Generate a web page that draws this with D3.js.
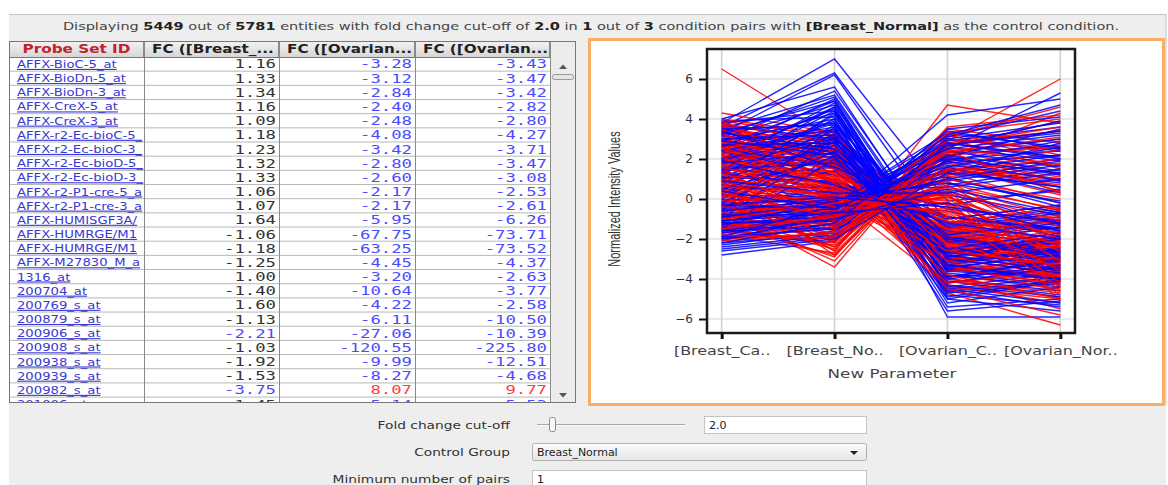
<!DOCTYPE html>
<html>
<head>
<meta charset="utf-8">
<script src="https://cdn.jsdelivr.net/npm/d3@7"></script>
<style>
  html, body { margin: 0; padding: 0; background: #fff; }
  svg { display: block; }
  text { font-family: "DejaVu Sans", sans-serif; }
</style>
</head>
<body>
<div id="chart"></div>
<script>
// ---- data ----
const categories = ["[Breast_Ca..", "[Breast_No..", "[Ovarian_C..", "[Ovarian_Nor.."];
const yTicks = [-6, -4, -2, 0, 2, 4, 6];

const tableColumns = ["Probe Set ID", "FC ([Breast_...", "FC ([Ovarian...", "FC ([Ovarian..."];
const probeIds = ["AFFX-BioC-5_at", "AFFX-BioDn-5_at", "AFFX-BioDn-3_at", "AFFX-CreX-5_at", "AFFX-CreX-3_at",
  "AFFX-r2-Ec-bioC-5_at", "AFFX-r2-Ec-bioC-3_at", "AFFX-r2-Ec-bioD-5_at", "AFFX-r2-Ec-bioD-3_at",
  "AFFX-r2-P1-cre-5_at", "AFFX-r2-P1-cre-3_at", "AFFX-HUMISGF3A/M97935_5_at", "AFFX-HUMRGE/M10098_5_at",
  "AFFX-HUMRGE/M10098_M_at", "AFFX-M27830_M_at", "1316_at", "200704_at", "200769_s_at", "200879_s_at",
  "200906_s_at", "200908_s_at", "200938_s_at", "200939_s_at", "200982_s_at", "201006_at"];
const fcBreast = [1.16, 1.33, 1.34, 1.16, 1.09, 1.18, 1.23, 1.32, 1.33, 1.06, 1.07, 1.64, -1.06, -1.18, -1.25,
  1.00, -1.40, 1.60, -1.13, -2.21, -1.03, -1.92, -1.53, -3.75, -1.45];
const fcOvarianCa = [-3.28, -3.12, -2.84, -2.40, -2.48, -4.08, -3.42, -2.80, -2.60, -2.17, -2.17, -5.95, -67.75,
  -63.25, -4.45, -3.20, -10.64, -4.22, -6.11, -27.06, -120.55, -9.99, -8.27, 8.07, -5.14];
const fcOvarianNo = [-3.43, -3.47, -3.42, -2.82, -2.80, -4.27, -3.71, -3.47, -3.08, -2.53, -2.61, -6.26, -73.71,
  -73.52, -4.37, -2.63, -3.77, -2.58, -10.50, -10.39, -225.80, -12.51, -4.68, 9.77, -5.53];

// normalized intensity profiles, one per entity: [Breast_Ca, Breast_No, Ovarian_C, Ovarian_Nor]
const profilesBlue = [
  [3.8, 7.0, -0.1, 0.4], [3.6, 6.3, -1.2, -0.5], [3.3, 6.2, -1.8, -1.0], [2.9, 5.4, -2.6, -2.2],
  [3.5, 5.2, -3.1, -2.7], [2.4, 5.0, -3.9, -3.5], [1.8, 4.8, -4.6, -4.1], [3.1, 4.7, -3.4, -3.9],
  [2.2, 4.5, -5.9, -5.9], [1.5, 4.4, -4.1, -4.8], [2.7, 4.3, -3.0, -2.1], [0.9, 4.2, -4.4, -3.7],
  [3.9, 4.1, -2.5, -3.1], [1.2, 4.0, -5.2, -4.4], [2.0, 3.9, -4.8, -5.3], [3.4, 3.8, -2.2, -1.4],
  [0.4, 3.7, -3.6, -2.9], [2.6, 3.6, -4.0, -4.6], [1.7, 3.5, -5.4, -5.0], [3.0, 3.4, -1.9, -2.6],
  [-0.3, 3.3, -3.3, -3.8], [1.1, 3.2, -4.7, -4.2], [2.3, 3.1, -2.8, -1.8], [3.7, 3.0, -1.5, -0.9],
  [0.6, 2.9, -3.8, -4.4], [1.9, 2.8, -2.4, -3.2], [-0.8, 2.7, -4.2, -3.4], [2.8, 2.6, -3.2, -2.4],
  [1.4, 2.5, -5.0, -5.6], [0.1, 2.4, -2.9, -2.2], [3.2, 2.3, -1.7, -1.1], [-1.2, 2.2, -3.5, -4.0],
  [2.1, 2.1, -2.6, -3.3], [0.8, 2.0, -4.5, -3.9], [1.6, 1.9, -2.0, -1.3], [-0.5, 1.8, -3.1, -2.5],
  [2.5, 1.7, -1.6, -2.3], [1.0, 1.6, -2.7, -2.0], [3.6, 1.5, -1.3, -0.6], [0.3, 1.4, -2.2, -2.9],
  [-2.8, -2.1, 2.6, 1.9], [-2.3, -1.6, 2.2, 2.7], [-1.9, -1.2, 3.0, 2.4], [-1.6, -0.9, 2.4, 1.6],
  [-2.1, -0.7, 1.9, 2.9], [-1.4, -0.6, 2.7, 3.3], [-0.9, -0.5, 1.5, 0.8], [-1.7, -0.4, 2.1, 1.2],
  [-1.1, -0.3, 1.2, 2.0], [-0.6, -0.2, 3.3, 2.6], [-1.3, -0.8, 1.7, 1.0], [-0.2, -0.1, 0.9, 1.7],
  [-1.8, -1.0, 2.9, 3.6], [-0.4, 0.2, 1.4, 0.6], [-1.0, 0.3, 2.0, 2.4], [-2.0, -1.4, 3.5, 4.1],
  [-0.7, -0.6, 4.2, 5.0], [0.2, 0.1, 2.5, 5.3], [-1.5, -1.1, 1.0, -0.2], [-0.1, 0.4, 0.6, 1.3],
  [1.3, 0.5, 1.1, -0.4], [0.7, 0.0, 0.2, -0.8], [-1.2, -0.9, 0.4, -1.3], [-0.8, -0.3, -0.6, -1.9],
  [0.5, 0.6, -0.3, 0.5], [-2.5, -1.9, 1.6, 0.3], [-1.6, -1.3, 2.3, 3.0], [-0.3, -0.4, 1.8, 2.2],
  [1.6, 0.8, -0.9, -1.6], [-0.9, -0.7, 2.6, 3.9], [0.0, -0.2, 3.1, 4.4], [-1.4, -1.5, 0.7, 1.5],
  [2.4, 1.2, -0.5, -1.1], [-2.2, -1.7, 2.8, 2.1], [-0.5, -0.1, 1.3, 2.8], [1.1, 0.9, -1.0, -0.3],
  [4.0, 5.6, -2.9, -2.0], [3.3, 4.9, -3.7, -4.3], [2.0, 4.6, -4.9, -4.0], [0.0, 3.0, -5.6, -5.1],
  [3.2, 5.1, -3.3, -2.5], [2.6, 4.9, -4.2, -3.4], [1.4, 4.6, -4.5, -5.2], [3.8, 4.4, -2.7, -1.9],
  [0.7, 4.3, -5.0, -4.1], [2.9, 4.0, -3.6, -4.0], [1.9, 3.8, -3.9, -3.0], [3.5, 3.7, -2.0, -2.8],
  [-0.6, 3.6, -4.3, -4.9], [2.4, 3.5, -3.5, -2.6], [1.3, 3.4, -2.6, -3.5], [3.0, 3.2, -2.9, -2.0],
  [0.2, 3.1, -3.9, -3.1], [2.0, 3.0, -4.6, -5.4], [-1.0, 2.9, -3.0, -3.7], [2.7, 2.8, -1.8, -1.2],
  [1.0, 2.7, -3.4, -2.8], [3.3, 2.5, -2.1, -2.9], [-0.2, 2.4, -4.0, -3.3], [1.8, 2.3, -3.3, -4.0],
  [2.9, 2.2, -1.4, -0.7], [0.5, 2.1, -2.5, -1.7], [-1.5, 2.0, -2.8, -3.6], [1.5, 1.8, -1.9, -2.7],
  [3.4, 1.6, -0.9, -1.5],
  [-2.4, -1.8, 2.0, 1.3], [-1.9, -1.5, 2.7, 3.4], [-1.2, -1.1, 3.4, 2.5], [-2.0, -0.9, 1.4, 2.2],
  [-0.8, -0.8, 2.2, 1.4], [-1.6, -0.6, 3.0, 3.8], [-1.1, -0.5, 1.9, 0.9], [-0.4, -0.4, 2.5, 3.2],
  [-1.9, -0.3, 1.0, 1.9], [-0.9, -0.2, 2.8, 2.0], [-1.3, -0.1, 1.6, 2.6], [-0.6, 0.0, 0.8, -0.1],
  [-2.2, -1.2, 3.2, 4.7], [0.4, -0.5, 2.1, 3.5], [-1.7, -1.0, 0.5, -0.7], [-0.3, 0.1, -0.4, -1.2],
  [1.9, 0.7, -1.2, -2.0], [0.9, 0.3, 0.3, 1.0], [-1.1, -0.7, -0.2, -1.6], [-2.6, -2.0, 1.3, 0.6]
];
const profilesRed = [
  [6.5, 3.0, -1.8, -2.6], [4.3, 3.3, -2.4, -3.0], [3.9, 3.1, -2.9, -3.5], [3.7, 2.9, -3.3, -4.1],
  [3.5, 2.8, -1.5, -0.7], [3.3, 2.7, -2.2, -2.9], [3.1, 2.5, -3.8, -4.5], [2.9, 2.4, -2.6, -1.9],
  [3.6, 2.3, -1.9, -2.7], [2.7, 2.2, -3.0, -3.7], [2.5, 2.1, -4.4, -5.0], [3.4, 2.0, -1.4, -2.2],
  [2.3, 1.9, -2.1, -1.4], [2.1, 1.8, -3.5, -4.2], [3.0, 1.7, -2.7, -3.3], [1.9, 1.6, -1.7, -2.5],
  [2.8, 1.5, -4.7, -6.3], [1.7, 1.4, -2.3, -3.1], [3.2, 1.3, -1.2, -0.4], [1.5, 1.2, -3.2, -2.6],
  [2.6, 1.1, -2.0, -2.8], [1.3, 1.0, -1.6, -1.0], [2.4, 0.9, -4.1, -4.9], [1.1, 0.8, -2.5, -3.4],
  [3.8, 0.7, -1.1, -1.7], [2.0, 0.6, -3.6, -3.0], [0.9, 0.5, -1.3, -2.0], [2.2, 0.4, -2.8, -3.6],
  [1.6, 0.3, -0.9, -1.5], [0.7, 0.2, -2.0, -2.7], [2.9, 0.1, -4.3, -5.2], [1.4, 0.0, -1.0, -0.3],
  [0.5, -0.1, -3.1, -3.9], [3.5, 0.9, -2.4, -4.0], [2.7, 1.6, -3.9, -5.5],
  [-0.4, -3.4, 3.2, 2.0], [-1.0, -2.9, 3.5, 2.8], [-1.8, -2.7, 2.8, 3.4], [0.6, -2.6, 4.7, 3.8],
  [-0.2, -2.4, 3.0, 1.5], [-1.5, -2.3, 2.5, 1.2], [0.3, -2.2, 2.9, 6.0], [-0.7, -2.1, 2.2, 0.9],
  [1.2, -2.0, 1.9, 0.4], [-1.2, -1.9, 2.6, 3.9], [0.0, -1.8, 1.6, 0.2], [-2.0, -1.7, 2.0, 1.1],
  [0.8, -1.6, 2.4, 3.0], [-0.9, -1.5, 1.3, -0.2], [1.5, -1.4, 1.8, 0.6], [-0.5, -1.3, 1.1, 1.8],
  [2.2, -1.2, 2.1, 4.3], [-1.3, -1.1, 0.8, -0.6], [0.4, -1.0, 1.5, 0.9], [1.0, -0.9, 0.6, -0.9],
  [-1.7, -0.8, 1.2, 2.5], [-0.1, -0.7, 0.3, -1.4], [1.8, -0.5, 0.9, -2.1], [-0.6, -0.4, 0.1, -1.8],
  [0.2, -0.3, 0.5, -3.0], [-1.1, -2.5, 3.1, 4.6], [0.9, -2.8, 2.7, 3.6], [-0.3, -1.6, 3.3, 4.0],
  [1.1, -0.6, -0.2, -2.4], [-1.4, -1.2, 0.2, -3.5], [2.5, -0.2, -0.6, -3.2], [0.1, 0.0, -0.4, -4.4],
  [-0.8, -0.1, 0.0, -2.9], [1.7, 0.4, -0.8, -3.8], [3.0, 0.3, -0.1, -4.6], [-1.9, -1.4, 0.4, -3.8],
  [0.6, 0.2, -1.1, -4.8], [2.3, 1.0, -0.3, -4.1], [-0.2, -0.8, 0.7, -2.3], [1.4, -0.1, 0.3, -5.1],
  [4.0, 3.2, -2.0, -2.4], [3.8, 2.8, -3.6, -3.2], [3.6, 2.6, -2.5, -3.4], [3.4, 2.4, -1.7, -1.1],
  [3.2, 2.2, -3.2, -4.0], [3.0, 2.0, -2.3, -1.6], [2.8, 1.9, -4.0, -4.7], [2.6, 1.7, -1.8, -2.4],
  [3.7, 1.6, -2.9, -3.8], [2.4, 1.5, -3.1, -2.3], [2.2, 1.3, -2.2, -3.0], [3.9, 1.2, -1.5, -2.1],
  [2.0, 1.1, -3.4, -4.3], [1.8, 0.9, -1.9, -1.2], [3.3, 0.8, -2.6, -3.3], [1.6, 0.7, -4.2, -3.6],
  [1.2, 0.6, -1.4, -2.2], [2.5, 0.5, -2.1, -3.9], [1.0, 0.4, -3.3, -4.6], [0.8, 0.2, -1.5, -0.8],
  [2.1, 0.1, -2.4, -1.7], [0.4, -0.2, -2.6, -3.3], [2.9, 1.8, -4.5, -5.8], [1.9, 1.0, -3.8, -5.0],
  [-0.6, -3.1, 3.0, 2.5], [-1.3, -2.8, 2.6, 1.7], [0.2, -2.6, 3.6, 4.2], [-0.9, -2.4, 2.3, 3.1],
  [-1.6, -2.2, 3.3, 2.2], [0.5, -2.0, 2.0, 1.3], [-0.3, -1.9, 2.7, 3.4], [-2.1, -1.7, 1.5, 0.7],
  [1.0, -1.5, 2.2, 2.6], [-0.8, -1.3, 1.6, 1.0], [0.3, -1.1, 1.0, 0.0], [-1.5, -0.9, 1.4, 2.0],
  [1.3, -0.8, 0.4, -1.1], [-0.4, -0.6, 0.6, -0.5], [0.7, -0.4, -0.5, -2.6], [-1.0, -0.2, 0.2, -3.1],
  [1.6, 0.0, -0.7, -3.6], [-0.1, 0.1, -0.2, -4.2], [2.6, 0.6, -0.9, -4.4], [0.3, -0.9, 0.1, -2.0],
  [-1.8, -2.0, 2.4, 0.3]
];

const headerParts = [["Displaying ", false], ["5449", true], [" out of ", false], ["5781", true],
  [" entities with fold change cut-off of ", false], ["2.0", true], [" in ", false], ["1", true],
  [" out of ", false], ["3", true], [" condition pairs with ", false], ["[Breast_Normal]", true],
  [" as the control condition.", false]];

// ---- layout ----
const W = 1168, H = 485;
const svg = d3.select("#chart").append("svg").attr("width", W).attr("height", H);

// squeeze/stretch a text horizontally around its x anchor
function stretch(t, k) {
  const x = +t.attr("x") || 0;
  t.attr("transform", "translate(" + x + ",0) scale(" + k + ",1) translate(" + (-x) + ",0)");
  return t;
}
function fitWidth(t, w) {
  return stretch(t, w / t.node().getComputedTextLength());
}

// panel background
svg.append("rect").attr("x", 9).attr("y", 14).attr("width", 1157).attr("height", H - 14).attr("fill", "#eeeeee");
svg.append("line").attr("x1", 9).attr("x2", 1166).attr("y1", 14.5).attr("y2", 14.5).attr("stroke", "#c6c6c6");
svg.append("line").attr("x1", 1166).attr("x2", 1166).attr("y1", 14).attr("y2", 405).attr("stroke", "#c6c6c6");

// header sentence
let head = svg.append("text").attr("x", 591).attr("y", 30).attr("text-anchor", "middle")
  .style("font-size", "11px").attr("fill", "#333");
headerParts.forEach(function(p){
  head.append("tspan").text(p[0]).style("font-weight", p[1] ? "bold" : "normal").attr("fill", p[1] ? "#222" : "#444");
});
fitWidth(head, 1057);

// ---- table ----
const colX = [9, 144, 279, 415, 550];
const scrollRight = 576;
const tTop = 41, headH = 16, rowH = 14.17, tBottom = 403;
const table = svg.append("g");
const defs = svg.append("defs");

table.append("rect").attr("x", colX[0]).attr("y", tTop).attr("width", scrollRight - colX[0]).attr("height", tBottom - tTop)
  .attr("fill", "#fff");

const grad = defs.append("linearGradient").attr("id", "hdr").attr("x1", 0).attr("x2", 0).attr("y1", 0).attr("y2", 1);
grad.append("stop").attr("offset", "0%").attr("stop-color", "#f2f2f2");
grad.append("stop").attr("offset", "100%").attr("stop-color", "#d6d6d6");

tableColumns.forEach(function(c, i){
  table.append("rect").attr("x", colX[i] + 0.5).attr("y", tTop + 0.5).attr("width", colX[i + 1] - colX[i] - 1)
    .attr("height", headH).attr("fill", "url(#hdr)").attr("stroke", "#8a8a8a");
  let t = table.append("text")
    .attr("x", i === 0 ? (colX[0] + colX[1]) / 2 : colX[i] + 8)
    .attr("y", tTop + 12.5)
    .attr("text-anchor", i === 0 ? "middle" : "start")
    .style("font-size", "12px").style("font-weight", "bold")
    .attr("fill", i === 0 ? "#c3222c" : "#222")
    .text(c);
  stretch(t, 1.27);
});

// rows
const body = table.append("g");
defs.append("clipPath").attr("id", "tbody").append("rect")
  .attr("x", colX[0]).attr("y", tTop + headH).attr("width", scrollRight - colX[0]).attr("height", tBottom - tTop - headH);
body.attr("clip-path", "url(#tbody)");

function fcColor(v){
  if (Math.abs(v) < 2) return "#333";
  return v < 0 ? "#4b4bff" : "#ff3c3c";
}

const idK = 1.2, idX = 17;
probeIds.forEach(function(id, r){
  const yTop = tTop + headH + r * rowH;
  const base = yTop + 11;
  body.append("line").attr("x1", colX[0]).attr("x2", colX[4]).attr("y1", yTop + rowH).attr("y2", yTop + rowH)
    .attr("stroke", "#b8b8b8");
  let idText = body.append("text")
    .attr("x", idX).attr("y", base).style("font-size", "11px")
    .style("text-decoration", "underline").attr("fill", "#3838d2").text(id);
  // the cell cuts the id at the column edge
  let shown = id;
  while (idText.node().getComputedTextLength() * idK > colX[1] - idX && shown.length > 1) {
    shown = shown.slice(0, -1);
    idText.text(shown);
  }
  stretch(idText, idK);
  [fcBreast, fcOvarianCa, fcOvarianNo].forEach(function(vals, c){
    const v = vals[r];
    let t = body.append("text").attr("x", colX[c + 2] - 3).attr("y", base + 0.5)
      .attr("text-anchor", "end").style("font-family", "'DejaVu Sans Mono', monospace").style("font-size", "12.5px")
      .attr("fill", fcColor(v)).text(v.toFixed(2));
    stretch(t, 1.38);
  });
});

// column rules
colX.slice(1).forEach(function(x){
  table.append("line").attr("x1", x + 0.5).attr("x2", x + 0.5).attr("y1", tTop).attr("y2", tBottom).attr("stroke", "#8a8a8a");
});
table.append("line").attr("x1", colX[0]).attr("x2", colX[4]).attr("y1", tTop + headH + 0.5).attr("y2", tTop + headH + 0.5)
  .attr("stroke", "#777");

// scrollbar
table.append("rect").attr("x", colX[4] + 1).attr("y", tTop + 1).attr("width", scrollRight - colX[4] - 2)
  .attr("height", tBottom - tTop - 2).attr("fill", "#ececec");
table.append("path").attr("d", "M559,69 L563,64.5 L567,69 Z").attr("fill", "#555");
table.append("rect").attr("x", 552.5).attr("y", 74.5).attr("width", 21).attr("height", 5).attr("rx", 2)
  .attr("fill", "#e4e4e4").attr("stroke", "#999");
table.append("path").attr("d", "M559,393 L567,393 L563,397.5 Z").attr("fill", "#555");
table.append("rect").attr("x", colX[0] + 0.5).attr("y", tTop + 0.5).attr("width", scrollRight - colX[0] - 1)
  .attr("height", tBottom - tTop - 1).attr("fill", "none").attr("stroke", "#777");

// ---- chart panel ----
svg.append("rect").attr("x", 589.5).attr("y", 39.5).attr("width", 574).attr("height", 365)
  .attr("fill", "#fff").attr("stroke", "#f8ae66").attr("stroke-width", 3);

const plot = { left: 707, right: 1075, top: 49, bottom: 333 };
const x = d3.scalePoint().domain(categories).range([plot.left, plot.right]).padding(0.13);
const y = d3.scaleLinear().domain([-6.7, 7.5]).range([plot.bottom, plot.top]);

const chart = svg.append("g");

// grid
chart.append("g").selectAll("line").data(yTicks).join("line")
  .attr("x1", plot.left).attr("x2", plot.right).attr("y1", d => y(d)).attr("y2", d => y(d))
  .attr("stroke", "#d2d2d2").attr("stroke-width", 1.2);
chart.append("g").selectAll("line").data(categories).join("line")
  .attr("x1", d => x(d)).attr("x2", d => x(d)).attr("y1", plot.top).attr("y2", plot.bottom)
  .attr("stroke", "#d2d2d2").attr("stroke-width", 1.6);

// profiles, interleaved blue / red
const line = d3.line().x((d, i) => x(categories[i])).y(d => y(d));
const n = Math.max(profilesBlue.length, profilesRed.length);
const lines = chart.append("g").attr("fill", "none").attr("stroke-width", 1.4);
for (let i = 0; i < n; i++) {
  if (profilesBlue[i]) lines.append("path").attr("d", line(profilesBlue[i])).attr("stroke", "#0000ff").attr("stroke-opacity", 0.85);
  if (profilesRed[i]) lines.append("path").attr("d", line(profilesRed[i])).attr("stroke", "#ff0000").attr("stroke-opacity", 0.85);
}

// box
chart.append("rect").attr("x", plot.left).attr("y", plot.top).attr("width", plot.right - plot.left)
  .attr("height", plot.bottom - plot.top).attr("fill", "none").attr("stroke", "#1a1a1a").attr("stroke-width", 2.5);

// axes
const yAxis = chart.append("g").attr("transform", "translate(" + (plot.left - 1) + ",0)")
  .call(d3.axisLeft(y).tickValues(yTicks).tickSize(7).tickPadding(6));
yAxis.select(".domain").remove();
yAxis.selectAll("line").attr("stroke", "#111").attr("stroke-width", 2);
yAxis.selectAll("text").style("font-size", "12px").style("font-family", "'DejaVu Sans', sans-serif").attr("fill", "#333");

const xAxis = chart.append("g").attr("transform", "translate(0," + (plot.bottom + 1) + ")")
  .call(d3.axisBottom(x).tickSize(5).tickPadding(7));
xAxis.select(".domain").remove();
xAxis.selectAll("line").attr("stroke", "#111").attr("stroke-width", 3);
xAxis.selectAll("text").style("font-size", "12px").style("font-family", "'DejaVu Sans', sans-serif")
  .attr("fill", "#444").attr("transform", "scale(1.33,1)");

let xt = chart.append("text").attr("x", 892).attr("y", 378).attr("text-anchor", "middle")
  .style("font-size", "12px").attr("fill", "#444").text("New Parameter");
fitWidth(xt, 129);

chart.append("text").attr("transform", "translate(620,199) scale(1.55,1) rotate(-90)")
  .attr("text-anchor", "middle").style("font-family", "'Liberation Sans', Arial, sans-serif")
  .style("font-size", "11px").attr("fill", "#333").text("Normalized Intensity Values");

// ---- controls ----
const ctl = svg.append("g");
function ctlLabel(yb, s){
  let t = ctl.append("text").attr("x", 510).attr("y", yb).attr("text-anchor", "end")
    .style("font-size", "11px").attr("fill", "#333").text(s);
  stretch(t, 1.25);
}
ctlLabel(429, "Fold change cut-off");
ctlLabel(456, "Control Group");
ctlLabel(483, "Minimum number of pairs");

ctl.append("line").attr("x1", 537).attr("x2", 685).attr("y1", 424.5).attr("y2", 424.5).attr("stroke", "#a8a8a8");
ctl.append("line").attr("x1", 537).attr("x2", 685).attr("y1", 425.5).attr("y2", 425.5).attr("stroke", "#fafafa");
ctl.append("rect").attr("x", 549.5).attr("y", 417.5).attr("width", 6).attr("height", 14).attr("rx", 2)
  .attr("fill", "#f7f7f7").attr("stroke", "#8c8c8c");

ctl.append("rect").attr("x", 704.5).attr("y", 416.5).attr("width", 162).attr("height", 17)
  .attr("fill", "#fff").attr("stroke", "#c4c4c4");
ctl.append("text").attr("x", 709).attr("y", 429).style("font-size", "11px").attr("fill", "#222").text("2.0");

const dd = defs.append("linearGradient").attr("id", "dd").attr("x1", 0).attr("x2", 0).attr("y1", 0).attr("y2", 1);
dd.append("stop").attr("offset", "0%").attr("stop-color", "#fbfbfb");
dd.append("stop").attr("offset", "100%").attr("stop-color", "#e6e6e6");
ctl.append("rect").attr("x", 532.5).attr("y", 443.5).attr("width", 334).attr("height", 17).attr("rx", 2)
  .attr("fill", "url(#dd)").attr("stroke", "#b0b0b0");
ctl.append("text").attr("x", 537).attr("y", 456).style("font-size", "11px").attr("fill", "#222").text("Breast_Normal");
ctl.append("path").attr("d", "M850,451 L858,451 L854,455 Z").attr("fill", "#222");

ctl.append("rect").attr("x", 532.5).attr("y", 470.5).attr("width", 334).attr("height", 17)
  .attr("fill", "#fff").attr("stroke", "#c4c4c4");
ctl.append("text").attr("x", 537).attr("y", 483).style("font-size", "11px").attr("fill", "#222").text("1");
</script>
</body>
</html>
